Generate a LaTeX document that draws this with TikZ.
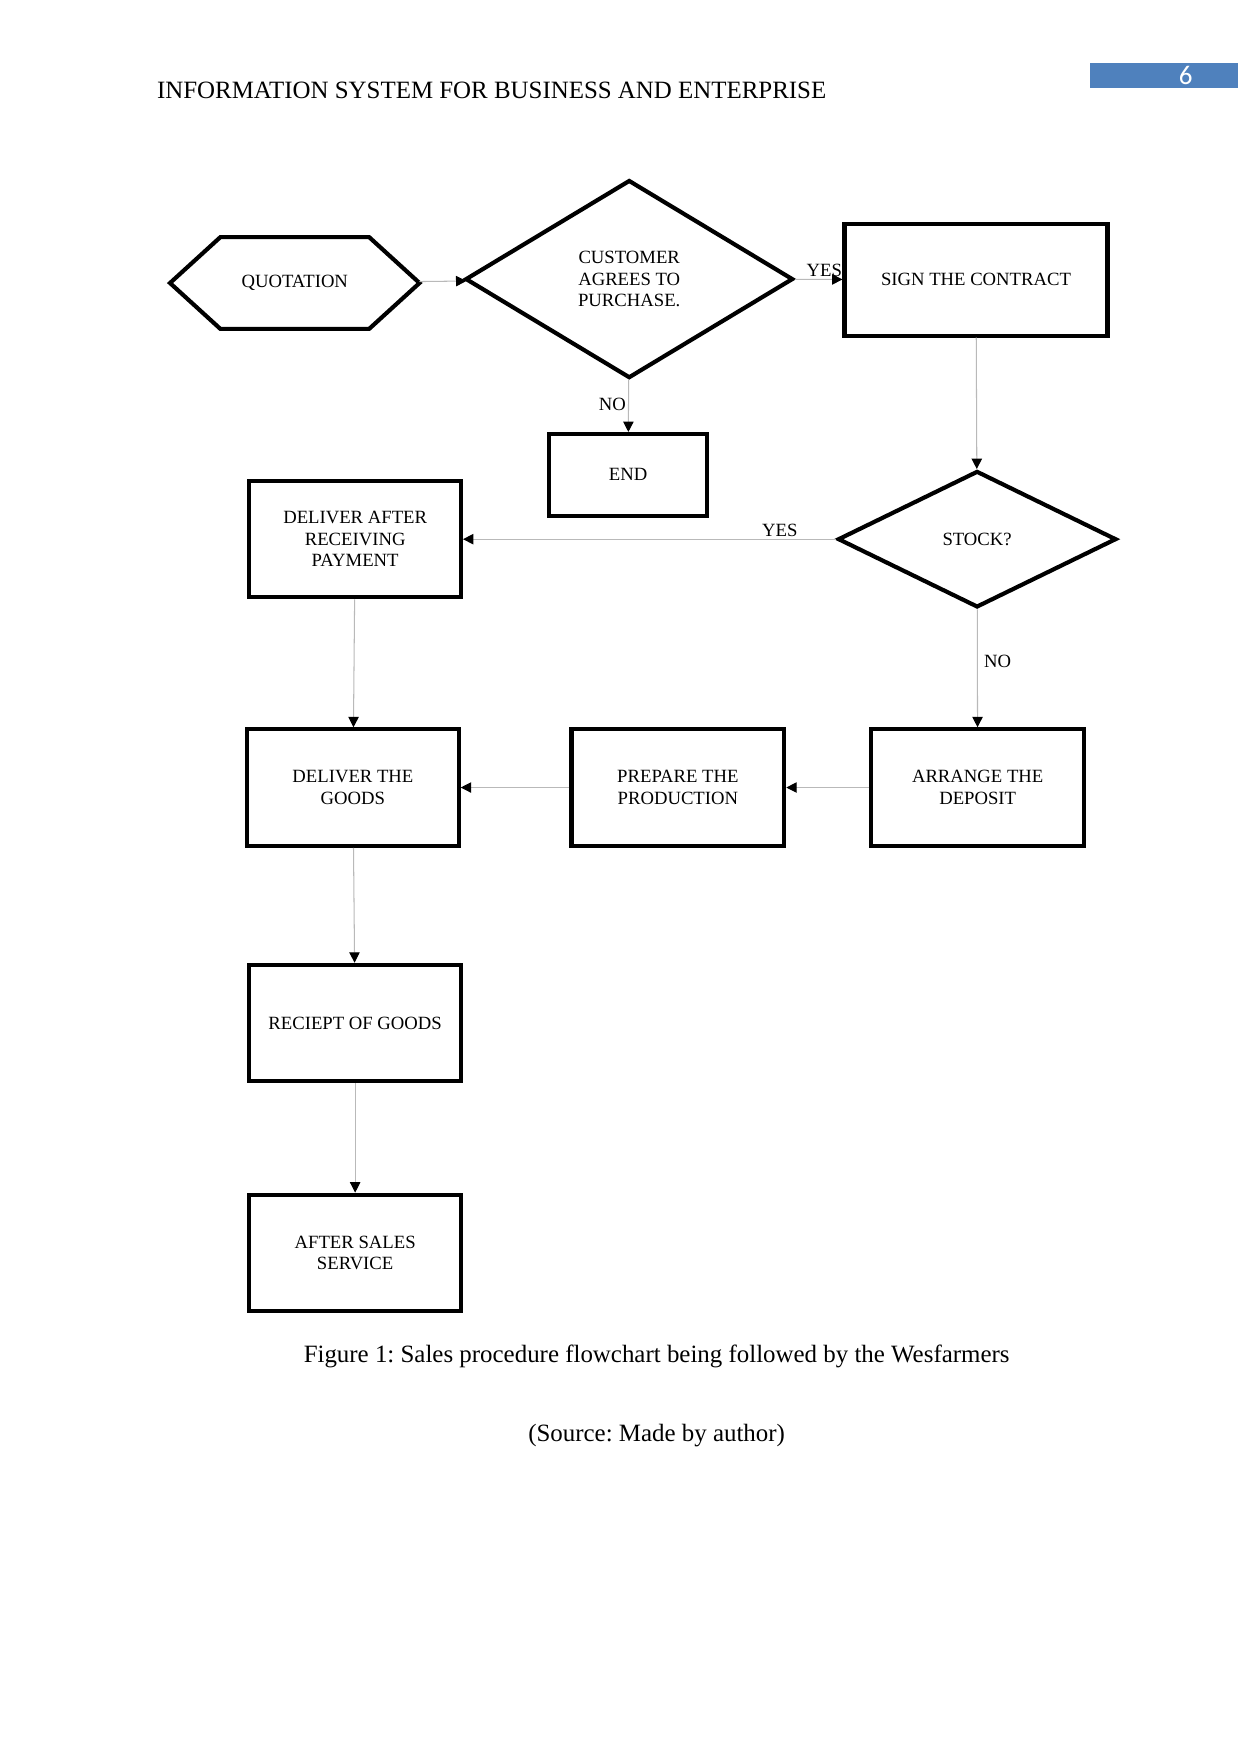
\documentclass[tikz,border=0pt]{standalone}
\usepackage{fontspec}
\setmainfont{Liberation Serif}
\newfontfamily\pagenofont{Carlito}
\usetikzlibrary{shapes.geometric,arrows.meta,calc}
\definecolor{pageblue}{RGB}{79,129,189}
\newcommand{\boxfont}{\fontsize{9}{10.3}\selectfont}
\frenchspacing
\tikzset{
  box/.style={draw,line width=2pt,minimum width=3.58cm,minimum height=1.97cm,align=center,font=\boxfont,inner sep=1pt},
  decision/.style={draw,diamond,line width=2pt,align=center,font=\boxfont,inner sep=0pt},
  flow/.style={draw=gray!55,line width=0.5pt,-{Triangle[color=black,length=5pt,width=5pt]}},
  lbl/.style={font=\boxfont,inner sep=1pt}
}
\begin{document}
\begin{tikzpicture}[x=0.018936cm,y=-0.018936cm]
  \useasboundingbox (0,0) rectangle (1109,1568);
  \node[anchor=base west,font=\fontsize{12}{14}\selectfont,inner sep=0pt] (title) at (140,88) {INFORMATION SYSTEM FOR BUSINESS AND ENTERPRISE};
  \fill[pageblue] (974,56) rectangle (1107,79);
  \node[text=white,font=\pagenofont\fontsize{13}{15}\selectfont] (pageno) at (1060,67.5) {6};

  \node[minimum width=4.223cm,minimum height=1.553cm,outer sep=0pt,font=\boxfont] (quot) at (263.5,253) {\raisebox{-2pt}{QUOTATION}};
  \draw[line width=2pt] (quot.west) -- ($(quot.north west)+(45,0)$) -- ($(quot.north east)-(45,0)$)
    -- (quot.east) -- ($(quot.south east)-(45,0)$) -- ($(quot.south west)+(45,0)$) -- cycle;
  \node[decision,minimum width=5.548cm,minimum height=3.352cm] (cust) at (562.5,249.5) {CUSTOMER\\AGREES TO\\PURCHASE.};
  \node[box,minimum width=4.45cm,minimum height=1.894cm] (sign) at (872.5,250) {SIGN THE CONTRACT};
  \node[box,minimum width=2.67cm,minimum height=1.382cm] (end) at (561.5,424.5) {END};
  \node[decision,minimum width=4.715cm,minimum height=2.31cm] (stock) at (873.5,482) {STOCK?};
  \node[box] (dap) at (317.5,482) {DELIVER AFTER\\RECEIVING\\PAYMENT};
  \node[box] (dtg) at (315.5,704) {DELIVER THE\\GOODS};
  \node[box,minimum width=3.6cm] (prep) at (606,704) {PREPARE THE\\PRODUCTION};
  \node[box,minimum width=3.6cm] (arr) at (874,704) {ARRANGE THE\\DEPOSIT};
  \node[box] (rec) at (317.5,914.5) {RECIEPT OF GOODS};
  \node[box] (asv) at (317.5,1120) {AFTER SALES\\SERVICE};

  \draw[flow] (quot) -- (cust);
  \draw[flow] (cust) -- node[lbl,pos=0.62,above] {YES} (sign);
  \draw[flow] (cust) -- node[lbl,pos=0.48,left] {NO} (end);
  \draw[flow] (sign) -- (stock);
  \draw[flow] (stock) -- node[lbl,pos=0.15,above] {YES} (dap);
  \draw[flow] (stock) -- node[lbl,pos=0.44,right=2pt] {NO} (arr);
  \draw[flow] (arr) -- (prep);
  \draw[flow] (prep) -- (dtg);
  \draw[flow] (dap) -- (dtg);
  \draw[flow] (dtg) -- (rec);
  \draw[flow] (rec) -- (asv);

  \node[font=\fontsize{12}{14}\selectfont] (caption) at (587,1213) {Figure 1: Sales procedure flowchart being followed by the Wesfarmers};
  \node[font=\fontsize{12}{14}\selectfont] (source) at (587,1283) {(Source: Made by author)};
\end{tikzpicture}
\end{document}
